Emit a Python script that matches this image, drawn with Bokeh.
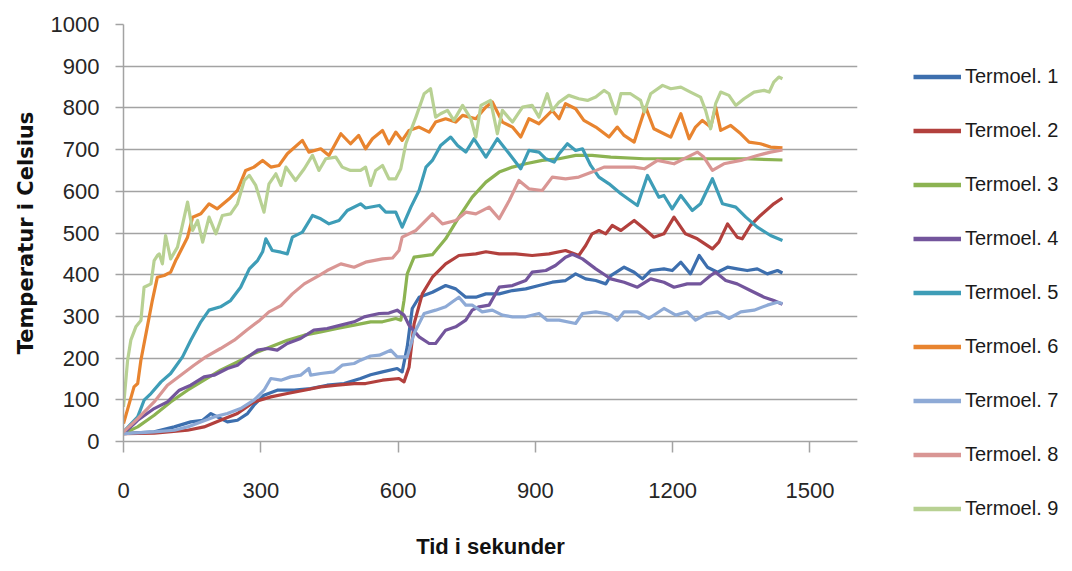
from bokeh.plotting import figure
from bokeh.models import Legend, LegendItem, FixedTicker, Range1d
from bokeh.layouts import row
from bokeh.embed import file_html
from bokeh.resources import INLINE

# ---------------- data (time in seconds, temperature in °C) ----------------
series_names = ["Termoel. 1", "Termoel. 2", "Termoel. 3", "Termoel. 4", "Termoel. 5",
                "Termoel. 6", "Termoel. 7", "Termoel. 8", "Termoel. 9"]

t1 = [0, 67, 111, 147, 173, 191, 205, 227, 249, 271, 285, 307, 336, 373, 409, 445, 482, 518, 540,
      566, 598, 609, 620, 631, 646, 675, 704, 726, 748, 770, 792, 821, 850, 879, 908, 937, 966, 988,
      1010, 1032, 1054, 1065, 1094, 1116, 1134, 1152, 1181, 1199, 1218, 1239, 1258, 1276, 1298, 1320,
      1341, 1363, 1385, 1407, 1429, 1440]
v1 = [19, 23, 35, 47, 51, 67, 59, 47, 51, 67, 87, 111, 123, 123, 127, 135, 139, 151, 160,
      167, 175, 167, 227, 319, 346, 358, 374, 366, 346, 346, 354, 354, 362, 366, 374, 382, 386, 402,
      390, 386, 378, 398, 418, 406, 390, 410, 414, 410, 430, 402, 446, 418, 406, 418,
      414, 410, 414, 402, 410, 404]

t2 = [0, 67, 140, 176, 212, 249, 285, 322, 358, 395, 431, 467, 504, 529, 566, 602, 613, 624, 635,
      653, 675, 704, 733, 770, 792, 821, 857, 893, 930, 966, 995, 1010, 1024, 1039, 1054, 1068, 1087,
      1116, 1138, 1159, 1181, 1203, 1228, 1254, 1287, 1301, 1320, 1341, 1352, 1370, 1392, 1421, 1440]
v2 = [19, 20, 27, 35, 51, 67, 95, 107, 115, 123, 131, 135, 139, 139, 147, 151, 143, 178, 282,
      354, 394, 426, 446, 450, 455, 450, 450, 446, 450, 458, 446, 470, 498, 506, 498, 518, 506,
      530, 510, 490, 498, 538, 498, 486, 462, 478, 522, 490, 486, 518, 542, 570, 584]

t3 = [0, 31, 67, 103, 140, 176, 212, 249, 285, 322, 358, 395, 431, 467, 504, 540, 566, 595, 606,
      613, 620, 635, 675, 704, 733, 762, 792, 821, 850, 879, 915, 952, 988, 1024, 1065, 1138, 1210,
      1283, 1356, 1440]
v3 = [19, 35, 63, 95, 123, 147, 171, 191, 211, 227, 243, 255, 263, 271, 279, 287, 287, 295, 291,
      338, 402, 442, 448, 486, 538, 586, 622, 646, 658, 666, 674, 678, 686, 686, 682, 678, 678,
      678, 678, 675]

t4 = [0, 31, 67, 96, 122, 147, 176, 198, 227, 249, 267, 293, 315, 336, 358, 387, 416, 445, 475, 504,
      526, 559, 580, 598, 613, 624, 646, 668, 682, 704, 726, 748, 762, 777, 799, 821, 850, 879, 893,
      923, 944, 966, 981, 1003, 1032, 1054, 1065, 1094, 1123, 1152, 1181, 1203, 1232, 1261, 1283,
      1294, 1316, 1341, 1370, 1400, 1421, 1440]
v4 = [19, 51, 79, 95, 123, 135, 155, 159, 175, 183, 199, 219, 223, 219, 235, 247, 267, 271, 279, 287,
      299, 307, 308, 315, 303, 279, 251, 235, 235, 267, 275, 291, 315, 323, 327, 370, 374, 386, 406,
      410, 422, 442, 449, 438, 414, 398, 390, 382, 370, 390, 382, 370, 378, 378, 398,
      406, 386, 378, 362, 346, 338, 329]

t5 = [0, 31, 45, 60, 82, 103, 129, 147, 169, 187, 212, 234, 256, 275, 293, 304, 311, 325, 344, 358,
      369, 391, 413, 431, 449, 471, 489, 518, 529, 559, 573, 595, 609, 628, 646, 661, 675, 693, 715,
      730, 748, 766, 792, 817, 843, 868, 886, 908, 923, 941, 952, 970, 988, 1003, 1021, 1039, 1061,
      1087, 1123, 1145, 1170, 1181, 1199, 1218, 1243, 1261, 1287, 1309, 1338, 1360, 1385, 1414, 1440]
v5 = [23, 59, 99, 115, 143, 163, 203, 243, 287, 315, 323, 338, 370, 414, 434, 455, 486, 458, 454, 450,
      490, 502, 542, 534, 522, 530, 554, 570, 560, 566, 550, 550, 514, 562, 602, 658, 674, 710, 730,
      710, 694, 726, 682, 726, 690, 654, 698, 694, 678, 670, 690, 714, 698, 702, 662, 634, 618,
      594, 566, 638, 586, 590, 558, 590, 554, 570, 630, 570, 562, 538, 514, 494, 482]

t6 = [0, 23, 31, 38, 52, 63, 74, 89, 103, 114, 118, 140, 151, 169, 187, 205, 231, 249, 267, 285,
      304, 322, 340, 358, 391, 405, 431, 449, 475, 496, 514, 529, 544, 566, 580, 595, 609, 624, 646,
      668, 682, 704, 726, 741, 770, 792, 806, 828, 850, 868, 886, 908, 937, 952, 966, 988, 1006,
      1032, 1061, 1079, 1094, 1116, 1141, 1159, 1181, 1196, 1218, 1236, 1250, 1265, 1283, 1294,
      1305, 1327, 1349, 1367, 1392, 1414, 1440]
v6 = [43, 131, 139, 195, 275, 338, 394, 398, 406, 434, 442, 490, 538, 546, 570, 558, 582, 602, 650, 658,
      674, 658, 662, 690, 722, 694, 702, 686, 738, 714, 734, 702, 726, 746, 714, 742, 722, 746, 754,
      742, 766, 774, 766, 782, 774, 802, 814, 766, 754, 730, 774, 762, 794, 774, 810, 798, 770,
      754, 730, 754, 734, 718, 802, 750, 738, 730, 786, 726, 754, 770, 754, 802,
      746, 758, 738, 718, 714, 706, 704]

t7 = [0, 67, 111, 140, 169, 198, 227, 256, 285, 307, 322, 344, 365, 387, 405, 409, 431, 460, 478, 504,
      518, 540, 559, 584, 598, 620, 635, 657, 682, 704, 719, 733, 748, 762, 784, 806, 828, 850, 879,
      908, 926, 952, 988, 1003, 1032, 1054, 1065, 1079, 1094, 1123, 1148, 1181, 1207, 1232, 1250,
      1276, 1298, 1323, 1349, 1378, 1407, 1429, 1440]
v7 = [19, 23, 27, 35, 47, 59, 67, 79, 99, 123, 151, 147, 155, 159, 175, 159, 163, 167, 183, 187,
      195, 205, 207, 219, 203, 203, 259, 307, 315, 323, 335, 346, 327, 327, 311, 315, 303, 299, 299,
      307, 291, 291, 283, 307, 311, 307, 303, 291, 311, 311, 295, 319, 303, 311, 291,
      307, 311, 295, 311, 315, 327, 334, 331]

t8 = [0, 31, 67, 96, 125, 154, 180, 212, 242, 269, 298, 318, 344, 369, 395, 427, 445, 475, 504, 529,
      566, 588, 602, 609, 639, 675, 697, 726, 748, 770, 799, 821, 843, 864, 886, 915, 937, 966, 995,
      1024, 1050, 1087, 1116, 1138, 1167, 1203, 1232, 1254, 1268, 1287, 1312, 1349, 1385, 1414, 1440]
v8 = [23, 55, 95, 135, 159, 183, 203, 223, 243, 267, 291, 311, 326, 354, 378, 398, 410, 426, 418, 430,
      438, 440, 458, 490, 506, 546, 522, 530, 550, 546, 562, 534, 578, 626, 606, 602, 634, 630, 634,
      646, 658, 658, 658, 654, 674, 666, 682, 694, 682, 650, 666, 674, 686, 694, 699]

t9 = [0, 9, 16, 27, 38, 45, 60, 67, 74, 78, 85, 92, 103, 118, 140, 151, 162, 173, 187, 202, 216, 234,
      249, 264, 275, 289, 307, 318, 333, 344, 355, 376, 395, 413, 427, 442, 464, 478, 496, 518, 529,
      540, 551, 566, 580, 595, 606, 617, 639, 657, 671, 682, 693, 708, 722, 741, 759, 770, 781, 802,
      817, 828, 850, 872, 893, 908, 926, 937, 952, 973, 995, 1014, 1032, 1050, 1061, 1076, 1087,
      1108, 1130, 1138, 1152, 1178, 1196, 1218, 1239, 1261, 1272, 1283, 1294, 1305, 1323, 1338,
      1356, 1378, 1400, 1411, 1421, 1432, 1440]
v9 = [83, 195, 243, 275, 290, 370, 378, 434, 446, 450, 426, 494, 438, 466, 574, 506, 530, 478, 538, 498, 542, 546,
      570, 626, 638, 614, 550, 618, 642, 614, 658, 626, 654, 686, 650, 678, 682, 658, 650, 650, 658,
      614, 650, 662, 630, 630, 654, 714, 778, 834, 846, 778, 786, 794, 770, 806, 774, 730, 806, 818,
      738, 794, 766, 802, 806, 778, 834, 794, 814, 830, 822, 818, 826, 842, 834, 786, 834,
      834, 818, 790, 834, 854, 846, 850, 838, 826, 794, 750, 810, 838, 830, 806,
      822, 838, 842, 838, 862, 874, 870]

times = [t1, t2, t3, t4, t5, t6, t7, t8, t9]
temps = [v1, v2, v3, v4, v5, v6, v7, v8, v9]

x_ticks = [0, 300, 600, 900, 1200, 1500]
y_ticks = [0, 100, 200, 300, 400, 500, 600, 700, 800, 900, 1000]

colors = ["#3d6fae", "#b2403d", "#8cb352", "#73559c", "#3e9db7",
          "#e8842f", "#8eaad6", "#d99694", "#b8d193"]

# ---------------- main chart ----------------
p = figure(width=913, height=563, output_backend="svg", toolbar_location=None,
           x_range=Range1d(0, 1604), y_range=Range1d(0, 1000),
           min_border_left=123, min_border_right=56, min_border_top=24, min_border_bottom=122)
p.outline_line_color = None
p.background_fill_color = "white"

for t, v, c in zip(times, temps, colors):
    p.line(t, v, line_color=c, line_width=3.2, line_join="round")

p.xaxis.ticker = FixedTicker(ticks=x_ticks)
p.yaxis.ticker = FixedTicker(ticks=y_ticks)
p.xgrid.grid_line_color = None
p.ygrid.grid_line_color = "#a3a3a3"
p.ygrid.grid_line_width = 1.5

for ax in (p.xaxis[0], p.yaxis[0]):
    ax.axis_line_color = "#a3a3a3"
    ax.axis_line_width = 1.5
    ax.major_tick_line_color = "#a3a3a3"
    ax.major_tick_line_width = 1.5
    ax.minor_tick_line_color = None
    ax.major_tick_in = 0
    ax.major_label_text_font = "Liberation Sans"
    ax.major_label_text_font_size = "22px"
    ax.major_label_text_color = "#262626"

p.xaxis.major_tick_out = 11
p.xaxis.major_label_standoff = 30
p.yaxis.major_tick_out = 8
p.yaxis.major_label_standoff = 16

p.yaxis.axis_label = "Temperatur i Celsius"
p.yaxis.axis_label_text_font = "DejaVu Sans"
p.yaxis.axis_label_text_font_style = "bold"
p.yaxis.axis_label_text_font_size = "21px"
p.yaxis.axis_label_text_color = "#111111"
p.yaxis.axis_label_standoff = 10

p.xaxis.axis_label = "Tid i sekunder"
p.xaxis.axis_label_text_font = "Liberation Sans"
p.xaxis.axis_label_text_font_style = "bold"
p.xaxis.axis_label_text_font_size = "22px"
p.xaxis.axis_label_text_color = "#111111"
p.xaxis.axis_label_standoff = 33

# ---------------- legend panel (to the right of the chart) ----------------
lp = figure(width=151, height=563, output_backend="svg", toolbar_location=None,
            x_range=Range1d(0, 1), y_range=Range1d(0, 1),
            min_border_left=0, min_border_right=0, min_border_top=0, min_border_bottom=0)
lp.axis.visible = False
lp.grid.visible = False
lp.outline_line_color = None

# off-range samples: only the legend swatches of these renderers are visible
legend_renderers = [lp.line([10, 11], [10, 11], line_color=c, line_width=4.5) for c in colors]
items = [LegendItem(label=n, renderers=[r]) for n, r in zip(series_names, legend_renderers)]
legend = Legend(items=items, location="top_left", orientation="vertical")
legend.title = " "
legend.title_text_font = "Liberation Sans"
legend.title_text_font_size = "30px"
legend.title_standoff = 5
legend.label_text_font = "Liberation Sans"
legend.label_text_font_size = "20px"
legend.label_text_color = "#1a1a1a"
legend.label_standoff = 4
legend.glyph_width = 48
legend.glyph_height = 27
legend.label_height = 27
legend.spacing = 27
legend.padding = 0
legend.margin = 0
legend.border_line_color = None
legend.background_fill_alpha = 0
lp.add_layout(legend, "left")

layout = row(p, lp, spacing=0)
open("out.html", "w").write(file_html(layout, INLINE))
